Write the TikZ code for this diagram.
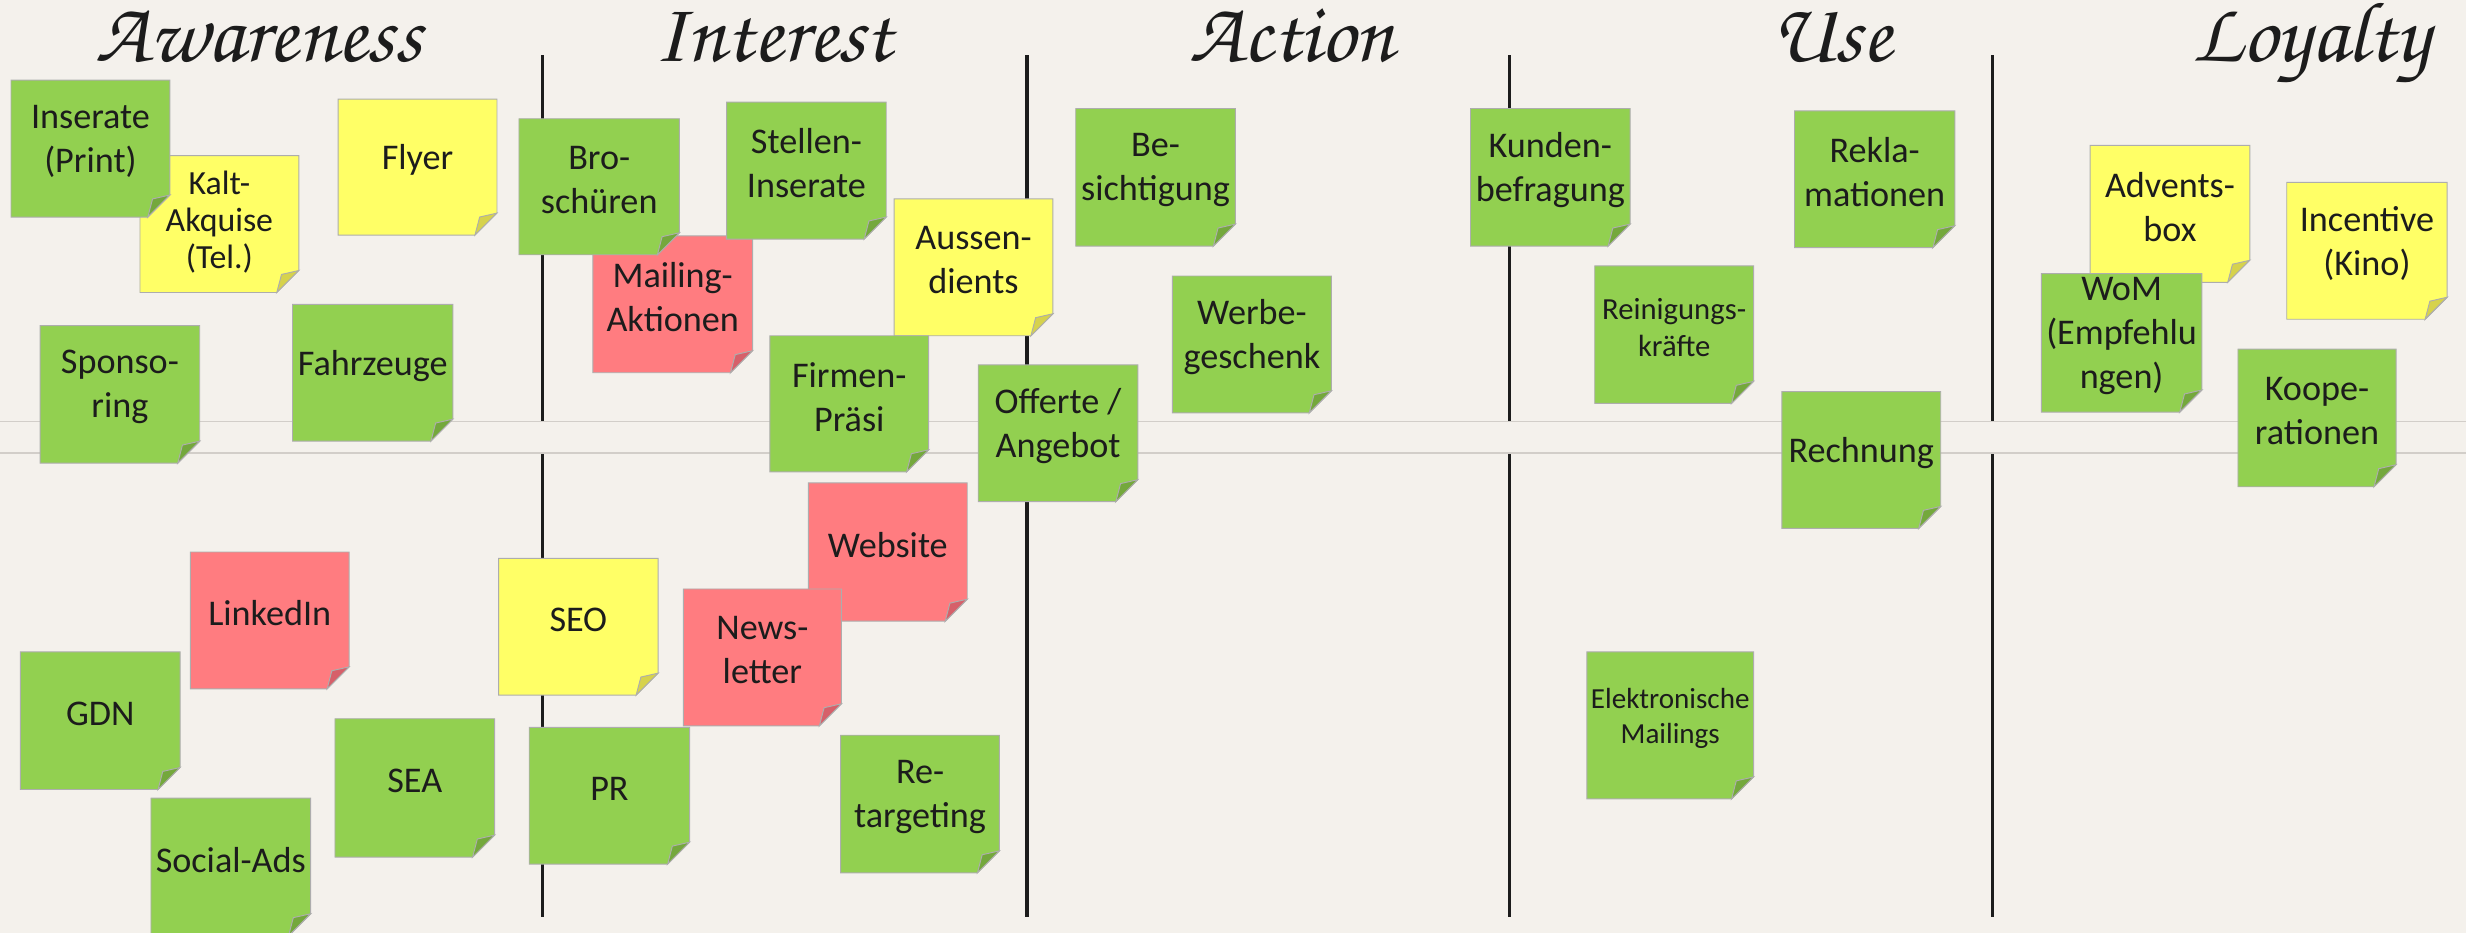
\documentclass[tikz,border=0pt]{standalone}
\usepackage{fontspec}
\setmainfont{Carlito}
\newcommand\hdrfont{\fontencoding{OT1}\fontfamily{pzc}\fontseries{mb}\fontshape{it}\fontsize{54.5}{60}\selectfont}
\definecolor{bgc}{HTML}{F4F1EC}
\definecolor{ngreen}{HTML}{92D050}
\definecolor{fgreen}{HTML}{74A83C}
\definecolor{nyellow}{HTML}{FFFF66}
\definecolor{fyellow}{HTML}{D6D24C}
\definecolor{nred}{HTML}{FF7C80}
\definecolor{fred}{HTML}{D6606A}
\definecolor{nborder}{HTML}{ADADAD}
\definecolor{txt}{HTML}{1C1C1C}
\definecolor{bandline}{HTML}{D2CEC9}
\tikzset{
  notebd/.style={draw=nborder, line width=0.6pt, line join=miter},
  notetext/.style={text=txt, align=center, inner sep=0pt, font=\fontsize{23}{28}\selectfont},
  kalttext/.style={font=\fontsize{21.5}{23.5}\selectfont, yshift=-3.5pt},
  smalltext/.style={font=\fontsize{19.5}{23.5}\selectfont},
  tinytext/.style={font=\fontsize{18.5}{22.5}\selectfont},
  hdr/.style={text=txt, anchor=base, inner sep=0pt, font=\hdrfont},
  divider/.style={draw=txt, line width=2pt},
  bandedge/.style={draw=bandline, line width=0.8pt},
}
% name, fill colour, fold colour, x1, y1, x2, y2, text, extra text style
\newcommand\stickynote[9]{%
  \filldraw[notebd, fill=#2] (#4,#5) -- (#6,#5) -- (#6,#7-14) -- (#6-14,#7) -- (#4,#7) -- cycle;
  \filldraw[notebd, fill=#3] (#6,#7-14) -- (#6-14,#7) -- (#6-11,#7-11.5) -- cycle;
  \node[notetext,#9] (#1) at ({(#4+#6)/2},{(#5+#7)/2-4.5}) {#8};
}
\newcommand\gnote[7][]{\stickynote{#2}{ngreen}{fgreen}{#3}{#4}{#5}{#6}{#7}{#1}}
\newcommand\ynote[7][]{\stickynote{#2}{nyellow}{fyellow}{#3}{#4}{#5}{#6}{#7}{#1}}
\newcommand\rnote[7][]{\stickynote{#2}{nred}{fred}{#3}{#4}{#5}{#6}{#7}{#1}}
\begin{document}
\begin{tikzpicture}[x=1pt,y=-1pt]
\useasboundingbox (0,0) rectangle (1568,593);
\fill[bgc] (0,0) rectangle (1568,593);
% column dividers
\foreach \xx in {345,653,960,1267} { \draw[divider] (\xx,35) -- (\xx,583); }
% horizontal band
\fill[bgc] (0,268) rectangle (1568,288);
\draw[bandedge] (0,268) -- (1568,268);
\draw[bandedge] (0,288) -- (1568,288);
% headers
\node[hdr] (hAware) at (164.5,39) {Awareness};
\node[hdr] (hInter) at (491.5,39) {Interest};
\node[hdr] (hAction) at (821.5,39) {Action};
\node[hdr] (hUse) at (1164.5,39) {Use};
\node[hdr] (hLoyal) at (1469.5,39) {Loyalty};
% Awareness
\ynote[kalttext]{kalt}{89}{99}{190}{186}{Kalt-\\Akquise\\(Tel.)}
\gnote{inserate}{7}{51}{108}{138}{Inserate\\(Print)}
\ynote{flyer}{215}{63}{316}{149.5}{Flyer}
\gnote{sponso}{25.5}{207}{127}{294.5}{Sponso-\\ring}
\gnote{fahrzeuge}{186}{193.5}{288}{280.5}{Fahrzeuge}
\rnote{linkedin}{121}{351}{222}{438}{LinkedIn}
\gnote{gdn}{13}{414.5}{114.5}{502}{GDN}
\gnote{sea}{213}{457}{314.5}{545}{SEA}
\gnote{social}{96}{507.5}{197.5}{595}{Social-Ads}
% Interest
\rnote{mailing}{377}{150}{478.5}{237}{Mailing-\\Aktionen}
\gnote{broschueren}{330}{75.5}{432}{162}{Bro-\\schüren}
\gnote{stellen}{462}{65}{563.5}{152}{Stellen-\\Inserate}
\ynote{aussen}{568.5}{126.5}{669.5}{213.5}{Aussen-\\dients}
\gnote{firmen}{489.5}{213.5}{590.5}{300}{Firmen-\\Präsi}
\rnote{website}{514}{307}{615}{395}{Website}
\rnote{newsletter}{434.5}{374.5}{535}{461.5}{News-\\letter}
\ynote{seo}{317}{355}{418.5}{442}{SEO}
\gnote{pr}{336.5}{462.5}{438.5}{549.5}{PR}
\gnote{retargeting}{534.5}{467.5}{635.5}{555}{Re-\\targeting}
% Action
\gnote{offerte}{622}{232}{723.5}{319}{Offerte /\\Angebot}
\gnote{besichtigung}{684}{69}{785.5}{156.5}{Be-\\sichtigung}
\gnote{werbe}{745.5}{175.5}{846.5}{262.5}{Werbe-\\geschenk}
% Use
\gnote{kunden}{935}{69}{1036.5}{156.5}{Kunden-\\befragung}
\gnote{reklamationen}{1141}{70.5}{1243}{157.5}{Rekla-\\mationen}
\gnote[smalltext]{reinigung}{1014}{169}{1115}{256.5}{Reinigungs-\\kräfte}
\gnote{rechnung}{1133}{249}{1234}{336}{Rechnung}
\gnote[tinytext]{elektro}{1009}{414.5}{1115}{508}{Elektronische\\Mailings}
% Loyalty
\ynote{advents}{1329}{92.5}{1430.5}{179.5}{Advents-\\box}
\ynote{incentive}{1454}{116}{1556}{203}{Incentive\\(Kino)}
\gnote{wom}{1298}{174}{1400}{262}{WoM\\(Empfehlu\\ngen)}
\gnote{koop}{1423}{222}{1523.5}{309.5}{Koope-\\rationen}
\end{tikzpicture}
\end{document}
